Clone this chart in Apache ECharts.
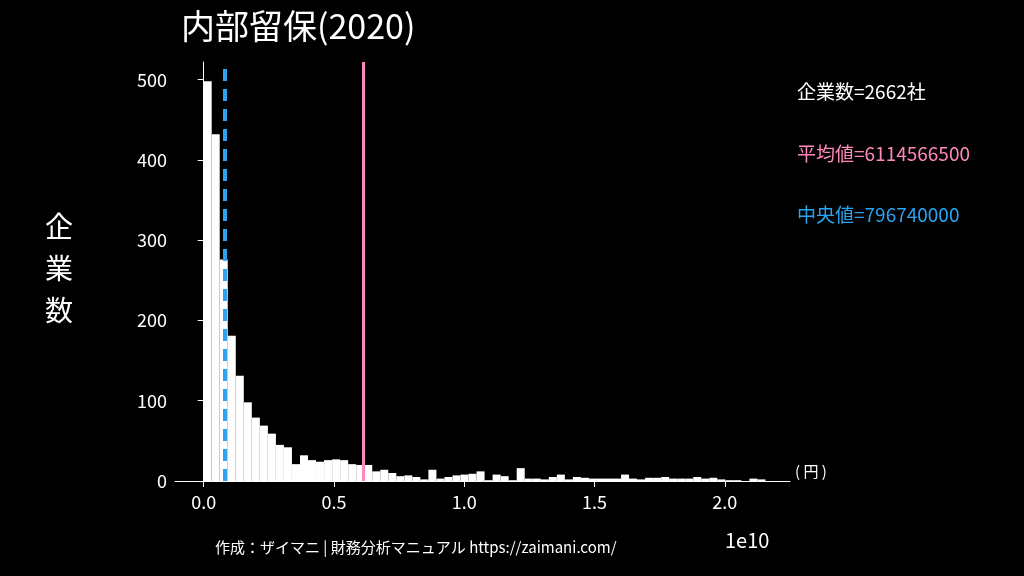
<!DOCTYPE html><html><head><meta charset="utf-8"><script src="https://cdn.jsdelivr.net/npm/echarts@6/dist/echarts.min.js"></script></head><body style="margin:0;background:#000"><div id="c" style="width:1024px;height:576px"></div><script>
const binWidth = 3.08e8;
const counts = [498,432,276,181,131,98,79,69,59,45,42,21,32,26,24,26,27,26,21,20,
 20,12,14,10,6,7,5,2,14,3,5,7,8,9,12,1,8,6,1,16,3,3,2,5,8,2,5,4,3,3,3,3,8,3,2,4,4,5,3,3,3,5,3,4,2,1,1,0,3,2,0];
const xTicks = [0,0.5e10,1e10,1.5e10,2e10];
const meanVal = 6114566500, medianVal = 796740000;
const texts = ['企業数=2662社','平均値=6114566500','中央値=796740000'];
const chart = echarts.init(document.getElementById('c'));
const F = 'Noto Sans CJK JP';
chart.setOption({
 backgroundColor:'#000', animation:false,
 textStyle:{fontFamily:F},
 grid:{left:175,right:234,top:62,bottom:95},
 title:{text:'内部留保(2020)',left:176,top:4,textStyle:{color:'#fff',fontSize:34,fontWeight:'normal',fontFamily:F}},
 xAxis:{type:'value',min:-0.11e10,max:2.25e10,interval:0.5e10,
  axisLine:{show:true,lineStyle:{color:'#fff'}},axisTick:{show:true,length:6,lineStyle:{color:'#fff'},customValues:xTicks},
  axisLabel:{color:'#fff',fontSize:18,margin:12,customValues:xTicks,formatter:v=>(v/1e10).toFixed(1)},splitLine:{show:false}},
 yAxis:{type:'value',min:0,max:522,interval:100,
  axisLine:{show:true,lineStyle:{color:'#fff'}},axisTick:{show:true,length:6,lineStyle:{color:'#fff'},customValues:[0,100,200,300,400,500]},
  axisLabel:{color:'#fff',fontSize:18,customValues:[0,100,200,300,400,500]},splitLine:{show:false}},
 graphic:[
  {type:'text',left:45,top:205,style:{text:'企\n業\n数',fill:'#fff',font:'28px "Noto Sans CJK JP"',lineHeight:42}},
  {type:'text',left:797,top:82,style:{text:texts[0],fill:'#fff',font:'19px "Noto Sans CJK JP"'}},
  {type:'text',left:797,top:144,style:{text:texts[1],fill:'#ff88bb',font:'19px "Noto Sans CJK JP"'}},
  {type:'text',left:797,top:205,style:{text:texts[2],fill:'#2aa4f0',font:'19px "Noto Sans CJK JP"'}},
  {type:'text',left:795,top:464,style:{text:'( 円 )',fill:'#fff',font:'15px "Noto Sans CJK JP"'}},
  {type:'text',left:725,top:530,style:{text:'1e10',fill:'#fff',font:'20px "Noto Sans CJK JP"'}},
  {type:'text',left:215,top:540,style:{text:'作成：ザイマニ | 財務分析マニュアル https://zaimani.com/',fill:'#fff',font:'15px "Noto Sans CJK JP"'}}
 ],
 series:[
  {type:'custom',data:counts.map((c,i)=>[i*binWidth,(i+1)*binWidth,c]),
   renderItem:(p,api)=>{const a=api.coord([api.value(0),api.value(2)]),b=api.coord([api.value(1),0]);
    return {type:'rect',shape:{x:a[0],y:a[1],width:b[0]-a[0],height:b[1]-a[1]},style:{fill:'#fff'}};}},
  {type:'line',data:[],markLine:{symbol:'none',silent:true,label:{show:false},data:[
   {xAxis:meanVal,lineStyle:{color:'#ff88bb',width:3,type:'solid'}},
   {xAxis:medianVal,lineStyle:{color:'#2aa4f0',width:4,type:[12,8]}}]}}
 ]
});
</script></body></html>
